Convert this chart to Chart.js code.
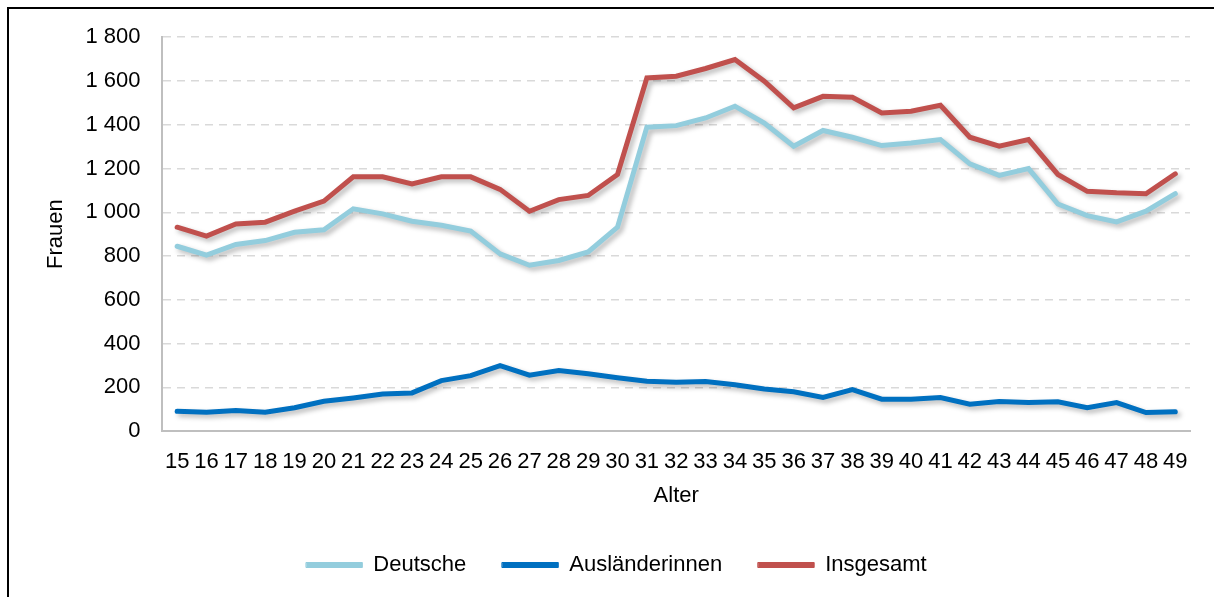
<!DOCTYPE html>
<html>
<head>
<meta charset="utf-8">
<script src="https://cdn.jsdelivr.net/npm/chart.js@4"></script>
<style>
  html, body { margin: 0; padding: 0; background: #fff; overflow: hidden; }
  #frame {
    position: absolute; left: 7px; top: 7px;
    width: 1230px; height: 620px;
    border: 2px solid #000; box-sizing: border-box;
  }
  #wrap { position: absolute; left: 9px; top: 2px; width: 1205px; height: 595px; }
</style>
</head>
<body>
<div id="frame"></div>
<div id="wrap"><canvas id="chart"></canvas></div>
<script>
// Alter 15..49
const ages = ['15','16','17','18','19','20','21','22','23','24','25','26','27','28','29','30','31','32',
  '33','34','35','36','37','38','39','40','41','42','43','44','45','46','47','48','49'];

const deutsche = [845, 804, 853, 871, 909, 920, 1016, 993, 959, 941, 914, 810, 758, 780, 819, 932, 1389, 1396,
  1431, 1485, 1408, 1302, 1374, 1343, 1305, 1317, 1332, 1221, 1169, 1200, 1038, 985, 956, 1005, 1085];

const auslaenderinnen = [91, 87, 94, 87, 107, 137, 152, 170, 175, 231, 254, 300, 256, 277, 262, 244, 228, 224,
  227, 212, 193, 180, 154, 190, 146, 146, 154, 123, 136, 131, 134, 107, 131, 85, 89];

const insgesamt = [932, 891, 947, 955, 1005, 1051, 1162, 1162, 1130, 1162, 1162, 1105, 1005, 1058, 1077, 1173, 1614, 1622,
  1657, 1698, 1599, 1477, 1530, 1526, 1454, 1462, 1489, 1343, 1302, 1332, 1173, 1096, 1089, 1085, 1176];

const FONT = "'Liberation Sans', Arial, sans-serif";

// soft drop shadow under the lines, like the office chart
const shadowPlugin = {
  id: 'lineShadow',
  beforeDatasetDraw(chart) {
    const ctx = chart.ctx;
    ctx.save();
    ctx.shadowColor = 'rgba(0,0,0,0.28)';
    ctx.shadowBlur = 5;
    ctx.shadowOffsetX = 3;
    ctx.shadowOffsetY = 3;
  },
  afterDatasetDraw(chart) {
    chart.ctx.restore();
  }
};

function makeSet(label, data, color) {
  return {
    label: label,
    data: data,
    borderColor: color,
    backgroundColor: color,
    borderWidth: 5,
    pointRadius: 0,
    pointHoverRadius: 0,
    tension: 0,
    borderJoinStyle: 'miter',
    borderCapStyle: 'round'
  };
}

Chart.defaults.font.family = FONT;
Chart.defaults.color = '#000';

new Chart(document.getElementById('chart').getContext('2d'), {
  type: 'line',
  data: {
    labels: ages,
    datasets: [
      makeSet('Deutsche', deutsche, '#93CDDD'),
      makeSet('Ausländerinnen', auslaenderinnen, '#0070C0'),
      makeSet('Insgesamt', insgesamt, '#C0504D')
    ]
  },
  plugins: [shadowPlugin],
  options: {
    responsive: true,
    maintainAspectRatio: false,
    animation: false,
    layout: { padding: { top: 0, right: 24, left: 34, bottom: 11 } },
    scales: {
      x: {
        offset: true,
        grid: { display: false, drawTicks: false },
        border: { color: '#bfbfbf', width: 2 },
        ticks: { font: { size: 22 }, maxRotation: 0, autoSkip: false, padding: 18 },
        title: { display: true, text: 'Alter', font: { size: 22 }, padding: { top: -11, bottom: 9 } }
      },
      y: {
        min: 0,
        max: 1800,
        grid: { color: '#d9d9d9', lineWidth: 1.5, drawTicks: false },
        border: { color: '#bfbfbf', width: 2, dash: [8, 6] },
        ticks: {
          stepSize: 200,
          font: { size: 22 },
          padding: 22,
          callback: v => String(v).replace(/\B(?=(\d{3})+(?!\d))/g, ' ')
        },
        title: { display: true, text: 'Frauen', font: { size: 22 }, padding: { top: 0, bottom: -6 } }
      }
    },
    plugins: {
      legend: {
        position: 'bottom',
        labels: {
          boxWidth: 56,
          boxHeight: 5,
          font: { size: 22 },
          padding: 36,
          color: '#000',
          generateLabels(chart) {
            const items = Chart.defaults.plugins.legend.labels.generateLabels(chart);
            items.forEach(it => { it.lineWidth = 1; });
            return items;
          }
        }
      },
      tooltip: { enabled: false }
    }
  }
});
</script>
</body>
</html>
